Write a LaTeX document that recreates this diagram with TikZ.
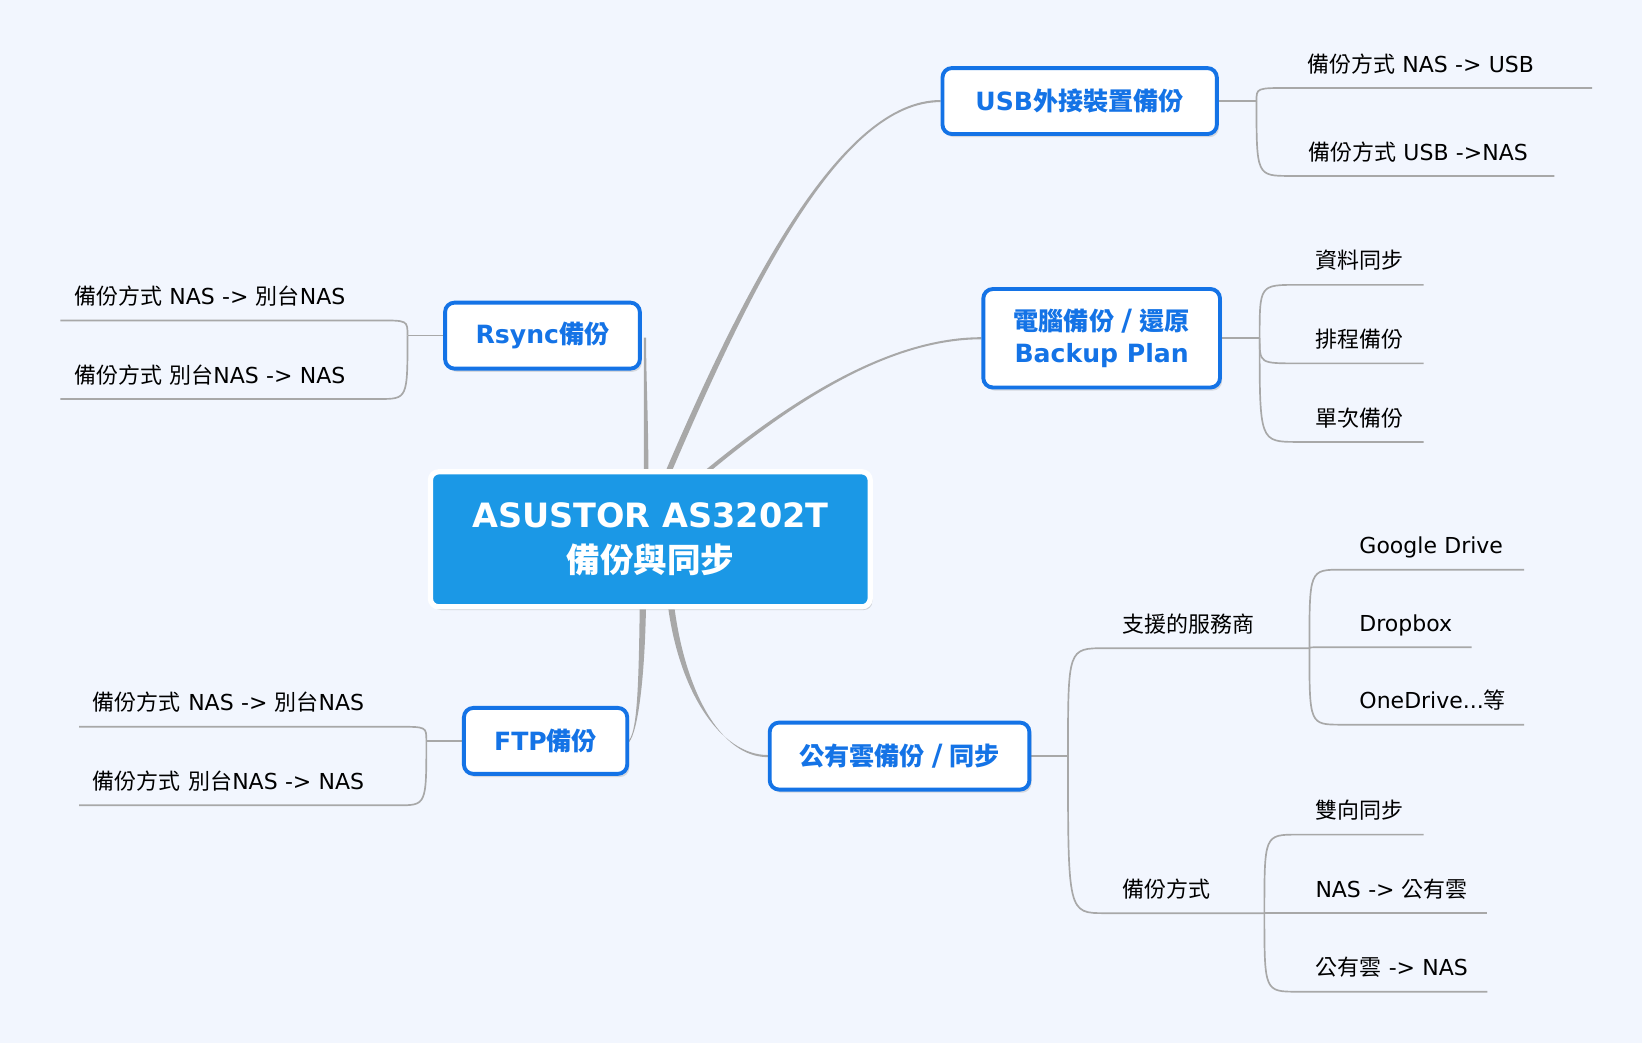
\documentclass[tikz,border=0pt]{standalone}
\usepackage{fontspec}
\setmainfont{DejaVu Sans}
\newfontfamily\cjk{Noto Sans CJK TC}
\usepackage{tikz}
\usetikzlibrary{positioning, shadows, backgrounds}
\definecolor{bgpage}{HTML}{F2F6FE}
\definecolor{mapblue}{HTML}{1473E6}
\definecolor{rootblue}{HTML}{1B98E6}
\definecolor{branchgray}{HTML}{A8A8A8}
\tikzstyle{twig} = [draw=branchgray, line width=1.6pt]
\tikzstyle{trunk} = [fill=branchgray]
\tikzstyle{topic} = [rectangle, rounded corners=9pt, draw=mapblue, line width=3.7pt, fill=white, text=mapblue, align=center, minimum height=63pt, font=\fontsize{24}{31}\selectfont\bfseries, drop shadow={shadow xshift=2pt, shadow yshift=-3pt, opacity=0.25}]
\tikzstyle{rootbox} = [rectangle, rounded corners=8pt, draw=white, line width=5pt, fill=rootblue, text=white, align=center, minimum width=420pt, minimum height=129pt, font=\fontsize{32}{43}\selectfont\bfseries, drop shadow={shadow xshift=2pt, shadow yshift=-3pt, opacity=0.3}]
\tikzset{
	leaf/.style = {inner xsep=17pt, inner ysep=15pt, text depth=0pt, align=left, anchor=south west,
		font=\fontsize{21}{25}\selectfont, text width=#1pt},
	leftleaf/.style = {leaf=#1, inner xsep=13pt, anchor=south east}
}
\newcommand\slashmark{\makebox[1em]{\fontsize{28}{28}\selectfont /}}
% tapered branch: from #1 to #2, control vectors #3 (at #1) and #4 (at #2)
\newcommand\taper[4]{\fill[trunk] ([xshift=-3pt]#1) .. controls +#3 and +#4 .. ([yshift=1pt]#2)
	-- ([yshift=-1pt]#2) .. controls +#4 and +#3 .. ([xshift=3pt]#1) -- cycle;}
% same, for a branch that also ends going up
\newcommand\vtaper[4]{\fill[trunk] ([xshift=-2.2pt]#1) .. controls +#3 and +#4 .. ([xshift=-1.1pt]#2)
	-- ([xshift=1.1pt]#2) .. controls +#4 and +#3 .. ([xshift=2.2pt]#1) -- cycle;}

\begin{document}
\begin{tikzpicture}[x=1pt, y=1pt]
\useasboundingbox (0,0) rectangle (1568,-996);
%----------------------------------------------------------------------------
% Placement of topics
\node (root) [rootbox] at (621,-515) {ASUSTOR AS3202T\\{\cjk 備份與同步}};
\node (usb) [topic, minimum width=262pt] at (1031,-96.5) {USB{\cjk 外接裝置備份}};
\node (pc) [topic, minimum width=226pt, minimum height=94pt] at (1052,-323) {{\cjk 電腦備份}\slashmark{\cjk 還原}\\Backup Plan};
\node (rsync) [topic, minimum width=186pt] at (518,-320.5) {Rsync{\cjk 備份}};
\node (ftp) [topic, minimum width=156pt] at (521,-707.5) {FTP{\cjk 備份}};
\node (cloud) [topic, minimum width=248pt, minimum height=64pt] at (859,-722) {{\cjk 公有雲備份}\slashmark{\cjk 同步}};

\coordinate [right=36pt of usb] (usbFork);
\coordinate [right=36pt of pc] (pcFork);
\coordinate [left=34pt of rsync] (rsyncFork);
\coordinate [left=34pt of ftp] (ftpFork);
\coordinate [right=35pt of cloud] (cloudFork);

% branch ends under the root and beside Rsync
\coordinate (rootUsb) at ([xshift=15pt,yshift=-8pt]root.north);
\coordinate (rootPc) at ([xshift=47pt,yshift=-8pt]root.north);
\coordinate (rootRsync) at ([xshift=-4pt,yshift=-10pt]root.north);
\coordinate (rootFtp) at ([xshift=-7pt,yshift=10pt]root.south);
\coordinate (rootCloud) at ([xshift=19pt,yshift=10pt]root.south);
\coordinate (rsyncDock) at ([xshift=3pt,yshift=-2pt]rsync.east);

%----------------------------------------------------------------------------
% Placement of leaves
\node (usbOut) [leaf=255] at (1231,-84) {{\cjk 備份方式} NAS -> USB};
\node (usbIn) [leaf=218] at (1232,-168) {{\cjk 備份方式} USB ->NAS};

\node (pcSync) [leaf=86] at (1239,-272) {{\cjk 資料同步}};
\node (pcSched) [leaf=86] at (1239,-347) {{\cjk 排程備份}};
\node (pcOnce) [leaf=86] at (1239,-422) {{\cjk 單次備份}};

\node (rsyncOut) [leftleaf=278] at (362,-306) {{\cjk 備份方式} NAS -> {\cjk 別台}NAS};
\node (rsyncIn) [leftleaf=278] at (362,-381) {{\cjk 備份方式 別台}NAS -> NAS};

\node (ftpOut) [leftleaf=278] at (380,-694) {{\cjk 備份方式} NAS -> {\cjk 別台}NAS};
\node (ftpIn) [leftleaf=278] at (380,-769) {{\cjk 備份方式 別台}NAS -> NAS};

\node (service) [leaf=161] at (1055,-619) {{\cjk 支援的服務商}};
\node (mode) [leaf=118] at (1055,-872) {{\cjk 備份方式}};

\node (gdrive) [leaf=140] at (1281,-544) {Google Drive};
\node (dropbox) [leaf=90] at (1281,-618) {Dropbox};
\node (onedrive) [leaf=140] at (1281,-692) {OneDrive...{\cjk 等}};

\node (twoWay) [leaf=86] at (1239,-797) {{\cjk 雙向同步}};
\node (toCloud) [leaf=147] at (1239,-872) {NAS -> {\cjk 公有雲}};
\node (fromCloud) [leaf=147] at (1239,-947) {{\cjk 公有雲} -> NAS};

%----------------------------------------------------------------------------
% Draw lines
\begin{pgfonlayer}{background}
\fill [bgpage] (0,0) rectangle (1568,-996);

\taper{rootUsb}{usb.west}{(79,185)}{(-95,0)}
\taper{rootPc}{pc.west}{(72,60)}{(-97,0)}
\vtaper{rootRsync}{rsyncDock}{(0,60)}{(0,-40)}
\taper{rootFtp}{ftp.east}{(-1,-78)}{(8,10)}
\taper{rootCloud}{cloud.west}{(10,-88)}{(-45,0)}

\draw [twig] (usb.east) -- (usbFork);
\draw [twig] (pc.east) -- (pcFork);
\draw [twig] (rsync.west) -- (rsyncFork);
\draw [twig] (ftp.west) -- (ftpFork);
\draw [twig] (cloud.east) -- (cloudFork);

\draw [twig] (usbFork) .. controls (usbFork |- usbOut.south west) .. (usbOut.south west) -- (usbOut.south east);
\draw [twig] (usbFork) .. controls (usbFork |- usbIn.south west) .. (usbIn.south west) -- (usbIn.south east);

\draw [twig] (pcFork) .. controls (pcFork |- pcSync.south west) .. (pcSync.south west) -- (pcSync.south east);
\draw [twig] (pcFork) .. controls (pcFork |- pcSched.south west) .. (pcSched.south west) -- (pcSched.south east);
\draw [twig] (pcFork) .. controls (pcFork |- pcOnce.south west) .. (pcOnce.south west) -- (pcOnce.south east);

\draw [twig] (rsyncFork) .. controls (rsyncFork |- rsyncOut.south east) .. (rsyncOut.south east) -- (rsyncOut.south west);
\draw [twig] (rsyncFork) .. controls (rsyncFork |- rsyncIn.south east) .. (rsyncIn.south east) -- (rsyncIn.south west);

\draw [twig] (ftpFork) .. controls (ftpFork |- ftpOut.south east) .. (ftpOut.south east) -- (ftpOut.south west);
\draw [twig] (ftpFork) .. controls (ftpFork |- ftpIn.south east) .. (ftpIn.south east) -- (ftpIn.south west);

\draw [twig] (cloudFork) .. controls (cloudFork |- service.south west) .. (service.south west) -- (service.south east);
\draw [twig] (cloudFork) .. controls (cloudFork |- mode.south west) .. (mode.south west) -- (mode.south east);

\draw [twig] (service.south east) .. controls (service.south east |- gdrive.south west) .. (gdrive.south west) -- (gdrive.south east);
\draw [twig] (service.south east) .. controls (service.south east |- dropbox.south west) .. (dropbox.south west) -- (dropbox.south east);
\draw [twig] (service.south east) .. controls (service.south east |- onedrive.south west) .. (onedrive.south west) -- (onedrive.south east);

\draw [twig] (mode.south east) .. controls (mode.south east |- twoWay.south west) .. (twoWay.south west) -- (twoWay.south east);
\draw [twig] (mode.south east) -- (toCloud.south west) -- (toCloud.south east);
\draw [twig] (mode.south east) .. controls (mode.south east |- fromCloud.south west) .. (fromCloud.south west) -- (fromCloud.south east);
\end{pgfonlayer}

\end{tikzpicture}
\end{document}
